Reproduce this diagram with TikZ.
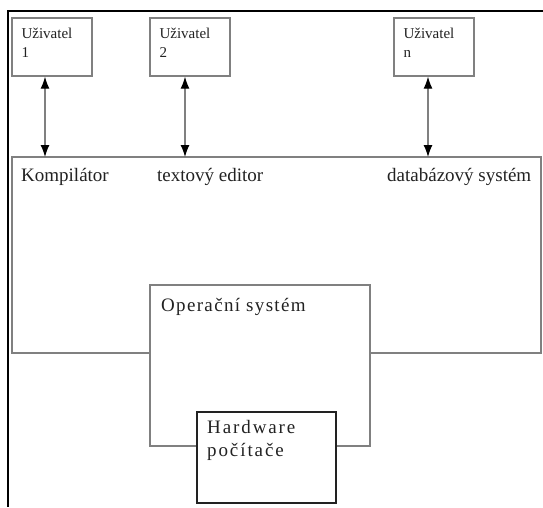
\documentclass[tikz,border=0pt]{standalone}
\usepackage{fontspec}
\setmainfont{Liberation Serif}
\newfontfamily\osfont[LetterSpace=7]{Liberation Serif}
\newfontfamily\hwfont[LetterSpace=10]{Liberation Serif}
\usetikzlibrary{positioning,arrows.meta}

\definecolor{boxgray}{RGB}{128,128,128}
\definecolor{ink}{RGB}{34,34,34}

\tikzset{
  layer/.style={draw=boxgray,line width=1.3pt,fill=white,inner sep=0pt},
  userbox/.style={layer,minimum width=80pt,minimum height=58pt},
  usertext/.style={anchor=north west,inner sep=0pt,align=left,text=ink,
    font=\fontsize{15}{19}\selectfont},
  apptext/.style={anchor=base west,inner sep=0pt,text=ink,
    font=\fontsize{19}{23}\selectfont},
  link/.style={draw=boxgray,line width=1.2pt,
    {Latex[length=12pt,width=9pt,color=black]}-{Latex[length=12pt,width=9pt,color=black]}}
}

\begin{document}
\begin{tikzpicture}[x=1pt,y=-1pt]
  \useasboundingbox (0,0) rectangle (543,507);
  \fill[white] (0,0) rectangle (543,507);

  % page frame (top and left)
  \draw[line width=2.2pt] (543,11) -- (8,11) -- (8,507);

  % users
  \node[userbox] (u1) at (52,47) {};
  \node[userbox] (u2) at (190,47) {};
  \node[userbox] (un) at (434,47) {};
  \node[usertext] (u1t) at ([shift={(10,11)}]u1.north west) {Uživatel\\1};
  \node[usertext] (u2t) at ([shift={(10,11)}]u2.north west) {Uživatel\\2};
  \node[usertext] (unt) at ([shift={(10,11)}]un.north west) {Uživatel\\n};

  % application layer
  \node[layer,minimum width=529pt,minimum height=196pt] (apps) at (276.5,255) {};
  \node[apptext] (komp) at (21,181) {Kompilátor};
  \node[apptext] (edit) at (157,181) {textový editor};
  \node[apptext] (dbs)  at (387,181) {databázový systém};

  % arrows between users and programs
  \coordinate (a1) at (45,157);
  \coordinate (a2) at (185,157);
  \coordinate (an) at (428,157);
  \draw[link] (u1.south -| a1) -- (a1);
  \draw[link] (u2.south -| a2) -- (a2);
  \draw[link] (un.south -| an) -- (an);

  % operating system and hardware
  \node[layer,minimum width=220pt,minimum height=161pt] (os) at (260,365.5) {};
  \node[apptext,font=\fontsize{19}{23}\osfont] (ost) at (161,311) {Operační systém};
  \node[layer,draw=ink,line width=1.1pt,minimum width=139pt,minimum height=91pt] (hw) at (266.5,457.5) {};
  \node[usertext,font=\fontsize{19}{23}\hwfont] (hwt) at (207,420) {Hardware\\počítače};
\end{tikzpicture}
\end{document}
